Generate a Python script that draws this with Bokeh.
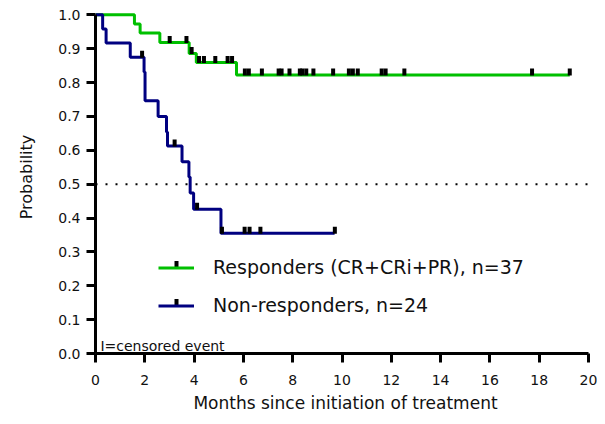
import numpy as np
from bokeh.plotting import figure
from bokeh.models import Range1d, FixedTicker, PrintfTickFormatter, Legend, LegendItem, Label
from bokeh.embed import file_html
from bokeh.resources import INLINE

# ---- data ----
resp_label = "Responders (CR+CRi+PR), n=37"
resp_times = [0.0, 1.58, 1.81, 2.61, 3.80, 4.09, 5.72, 19.24]
resp_surv = [1.0, 0.973, 0.946, 0.918, 0.886, 0.859, 0.822, 0.822]
resp_censor = [3.01, 3.69, 3.90, 4.20, 4.40, 4.86, 5.36, 5.54, 6.06, 6.22, 6.75,
               7.43, 7.55, 7.87, 8.29, 8.39, 8.55, 8.84, 9.64, 10.28, 10.44,
               10.64, 11.61, 11.77, 12.53, 17.71, 19.24]

nonresp_label = "Non-responders, n=24"
nonresp_times = [0.0, 0.29, 0.43, 1.41, 1.97, 2.01, 2.54, 2.88, 2.92, 3.51, 3.79,
                 3.84, 3.98, 5.09, 9.70]
nonresp_surv = [1.0, 0.958, 0.917, 0.875, 0.831, 0.746, 0.700, 0.654, 0.613, 0.566,
                0.521, 0.474, 0.426, 0.355, 0.355]
nonresp_censor = [1.89, 3.21, 4.12, 5.13, 6.05, 6.25, 6.69, 9.71]

x_ticks = [0, 2, 4, 6, 8, 10, 12, 14, 16, 18, 20]
y_ticks = [0.0, 0.1, 0.2, 0.3, 0.4, 0.5, 0.6, 0.7, 0.8, 0.9, 1.0]
median_level = 0.5

GREEN = "#00C000"
BLUE = "#000080"
TXT = "#111111"
FONT = "DejaVu Sans"

# ---- geometry (pixels) ----
W, H = 597, 416
BL, BR, BT, BB = 95, 2, 0, 63
frame_w = W - BL - BR
frame_h = H - BT - BB
px_x = 24.65                 # pixels per month
px_y = 338.7                 # pixels per unit probability
x_end = frame_w / px_x
y_end = frame_h / px_y
lift = 3.0 / px_y            # censor tick sits just above the line


def level_at(times, surv, t):
    i = int(np.searchsorted(np.asarray(times), t, side="right")) - 1
    return surv[max(i, 0)]


p = figure(width=W, height=H, x_range=Range1d(0, x_end), y_range=Range1d(0, y_end),
           output_backend="svg", toolbar_location=None,
           min_border_left=BL, min_border_right=BR, min_border_top=BT, min_border_bottom=BB)
p.grid.visible = False
p.outline_line_color = None
p.background_fill_color = "white"
p.border_fill_color = "white"

for ax in (p.xaxis[0], p.yaxis[0]):
    ax.axis_line_width = 3
    ax.axis_line_color = "black"
    ax.major_tick_line_width = 3
    ax.major_tick_line_color = "black"
    ax.major_tick_out = 9
    ax.major_tick_in = 0
    ax.minor_tick_line_color = None
    ax.major_label_text_font = FONT
    ax.major_label_text_font_size = "14px"
    ax.major_label_text_color = TXT
    ax.axis_label_text_font = FONT
    ax.axis_label_text_font_style = "normal"
    ax.axis_label_text_color = TXT

p.xaxis.bounds = (x_ticks[0], x_ticks[-1])
p.yaxis.bounds = (y_ticks[0], y_ticks[-1])
p.xaxis.ticker = FixedTicker(ticks=x_ticks)
p.yaxis.ticker = FixedTicker(ticks=y_ticks)
p.yaxis.formatter = PrintfTickFormatter(format="%.1f")
p.xaxis.major_label_standoff = 12
p.yaxis.major_label_standoff = 6
p.xaxis.axis_label = "Months since initiation of treatment"
p.yaxis.axis_label = "Probability"
p.xaxis.axis_label_text_font_size = "17px"
p.yaxis.axis_label_text_font_size = "16px"
p.xaxis.axis_label_standoff = 5
p.yaxis.axis_label_standoff = 19

# median dotted line
p.segment(x0=[x_ticks[0]], x1=[x_ticks[-1]], y0=[median_level], y1=[median_level],
          line_color="black", line_width=2, line_dash="2 8")

# KM curves
g = p.step(resp_times, resp_surv, mode="after", line_color=GREEN, line_width=3)
b = p.step(nonresp_times, nonresp_surv, mode="after", line_color=BLUE, line_width=3)

# censor marks
for times, surv, cens in ((resp_times, resp_surv, resp_censor),
                          (nonresp_times, nonresp_surv, nonresp_censor)):
    ys = [level_at(times, surv, t) + lift for t in cens]
    p.rect(x=cens, y=ys, width=4, height=7, width_units="screen", height_units="screen",
           fill_color="black", line_color=None)

# legend
LEG_X, LEG_Y = 63, 35
ROW_H, ROW_GAP, GLYPH_W = 26, 12, 36
legend = Legend(items=[LegendItem(label=resp_label, renderers=[g]),
                       LegendItem(label=nonresp_label, renderers=[b])],
                location=(LEG_X, LEG_Y), glyph_width=GLYPH_W, glyph_height=17,
                label_height=ROW_H, label_standoff=19, spacing=ROW_GAP, padding=0, margin=0,
                border_line_color=None, background_fill_alpha=0,
                label_text_font=FONT, label_text_font_size="19px",
                label_text_color=TXT)
p.add_layout(legend)

# legend censor ticks, placed on the legend swatches (pixel geometry -> data units)
leg_tick_x = (LEG_X + GLYPH_W / 2) / px_x
row_centres = [LEG_Y + ROW_H * 1.5 + ROW_GAP, LEG_Y + ROW_H * 0.5]
p.rect(x=[leg_tick_x] * 2, y=[(r + 3) / px_y for r in row_centres], width=4, height=7,
       width_units="screen", height_units="screen", fill_color="black", line_color=None)

p.add_layout(Label(x=0.2, y=7.5 / px_y, text="I=censored event", text_font=FONT,
                   text_font_size="14px", text_color=TXT,
                   text_baseline="alphabetic"))

open("out.html", "w").write(file_html(p, INLINE))
